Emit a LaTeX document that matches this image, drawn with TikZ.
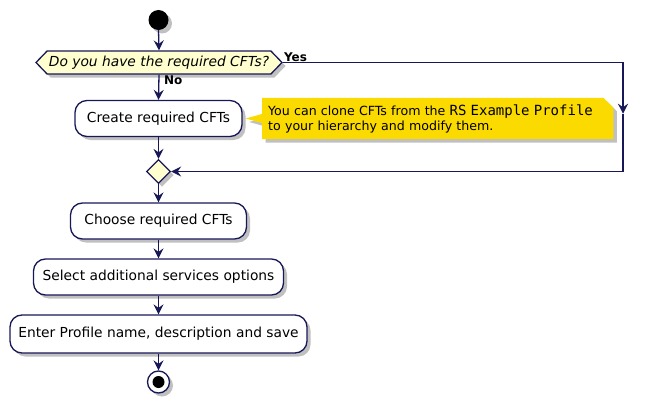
\documentclass[tikz,border=0pt]{standalone}
\usepackage{fontspec}
\setmainfont{DejaVu Sans}
\setmonofont{DejaVu Sans Mono}
\usetikzlibrary{arrows.meta,shapes.geometric,shapes.symbols,shadows,backgrounds,calc}

\definecolor{umlline}{RGB}{24,24,88}
\definecolor{umlfill}{RGB}{254,254,206}
\definecolor{umlnote}{RGB}{251,218,0}

\tikzset{
  umlshadow/.style={drop shadow={shadow xshift=3.5pt,shadow yshift=-3.5pt,fill=black!55,opacity=0.45}},
  action/.style={draw=umlline,line width=1.3pt,fill=white,rounded corners=12pt,
    minimum height=36pt,inner xsep=0pt,font=\fontsize{13.8}{16}\selectfont,umlshadow},
  flow/.style={draw=umlline,line width=1.3pt,-{Stealth[length=10pt,width=10pt,inset=3.5pt]}},
  branch/.style={inner sep=1pt,font=\bfseries\fontsize{12}{14}\selectfont},
}

\begin{document}
\begin{tikzpicture}[x=1pt,y=-1pt]
    \useasboundingbox (0,0) rectangle (647,404);

    \node[circle,fill=black,minimum size=20pt,inner sep=0pt,umlshadow] (start) at (158.5,20) {};

    \node[signal,signal to=east and west,signal pointer angle=92,draw=umlline,line width=1.3pt,
      fill=umlfill,minimum width=246pt,minimum height=23pt,inner sep=0pt,umlshadow,
      font=\itshape\fontsize{13.8}{16}\selectfont] (q) at (159,62.5) {Do you have the required CFTs?};
    \node[branch,anchor=north west] (nolbl) at ($(q.south)+(4,0)$) {No};
    \node[branch,anchor=south west] (yeslbl) at (q.east) {Yes};

    \node[action,minimum width=167pt] (create) at (158.5,118.5) {Create required CFTs};

    %%%%%%%%%%%%%%%%%%%%%%%%%%%%%%%%%%%%

    \node[anchor=west,inner xsep=6pt,inner ysep=0pt,text width=339pt,minimum height=41pt,align=left,
      font=\fontsize{12.6}{15}\selectfont] (note) at (262,118.5)
      {You can clone CFTs from the {\fontsize{14}{15}\ttfamily RS Example Profile}\\to your hierarchy and modify them.};
    \begin{scope}[on background layer]
      \fill[umlnote,umlshadow] (note.north west) -- ($(note.north east)+(-10,0)$)
        -- ($(note.north east)+(0,10)$) -- (note.south east) -- (note.south west)
        -- ($(note.west)+(0,4.5)$) -- ($(create.east)+(3,0)$) -- ($(note.west)+(0,-4.5)$) -- cycle;
    \end{scope}

    %%%%%%%%%%%%%%%%%%%%%%%%%%%%%%%%%%%%

    \node[diamond,aspect=1,draw=umlline,line width=1.3pt,fill=umlfill,minimum size=24pt,
      inner sep=0pt,umlshadow] (merge) at (158.5,171.5) {};

    \node[action,minimum width=176pt] (choose) at (158.5,221) {Choose required CFTs};
    \node[action,minimum width=250pt] (select) at (158.5,277) {Select additional services options};
    \node[action,minimum width=297pt,minimum height=38pt] (enter) at (158.5,334) {Enter Profile name, description and save};

    \node[circle,draw=umlline,line width=1.3pt,fill=white,minimum size=22pt,inner sep=0pt,umlshadow] (stop) at (158.5,382) {};
    \node[circle,fill=black,minimum size=12pt,inner sep=0pt] (stopdot) at (stop) {};

    %%%%%%%%%%%%%%%%%%%%%%%%%%%%%%%%%%%%

    \foreach \a/\b in {start/q,q/create,create/merge,merge/choose,choose/select,select/enter,enter/stop}
    \draw[flow] (\a.south) -- (\b.north);

    \coordinate (yestop) at (623,62.5);
    \coordinate (yesbot) at (623,171.5);
    \coordinate (yesmid) at ($(yestop)!0.47!(yesbot)$);
    \draw[flow] (q.east) -- (yestop) -- (yesmid);
    \draw[flow] (yesmid) -- (yesbot) -- (merge.east);

\end{tikzpicture}
\end{document}
